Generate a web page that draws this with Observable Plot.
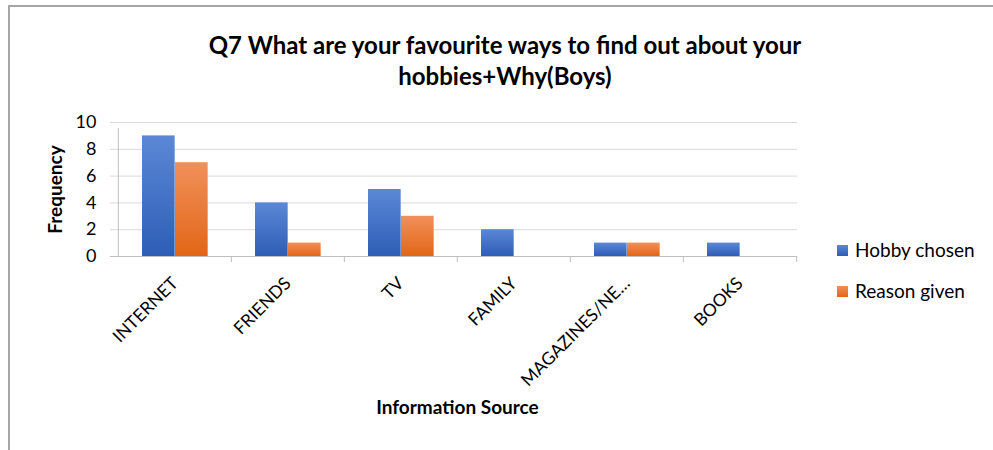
<!DOCTYPE html>
<html>
<head>
<meta charset="utf-8">
<script src="https://cdn.jsdelivr.net/npm/d3@7"></script>
<script src="https://cdn.jsdelivr.net/npm/@observablehq/plot@0.6"></script>
<style>
  html, body { margin: 0; padding: 0; background: #fff; }
  #wrap { position: relative; width: 993px; height: 450px; overflow: hidden; font-family: Lato, "Open Sans", sans-serif; }
  #border { position: absolute; left: 8px; top: 5px; width: 1000px; height: 500px; border-left: 2px solid #a6a6a6; border-top: 2px solid #a6a6a6; }
  #title { position: absolute; left: 0; top: 29px; width: 1010px; text-align: center; font-weight: bold; font-size: 24px; line-height: 31px; color: #000; }
  #chart { position: absolute; left: 0; top: 0; }
  .legend { position: absolute; left: 837px; font-size: 19px; color: #000; white-space: nowrap; }
  .legend span.sw { display: inline-block; width: 11px; height: 11px; margin-right: 7px; vertical-align: 1px; }
</style>
</head>
<body>
<div id="wrap">
  <div id="border"></div>
  <div id="chart"></div>
  <div id="title">Q7 What are your favourite ways to find out about your<br>hobbies+Why(Boys)</div>
  <div id="legend"></div>
</div>
<script>
const categories = ["INTERNET", "FRIENDS", "TV", "FAMILY", "MAGAZINES/NE…", "BOOKS"];
const hobbyChosen = [9, 4, 5, 2, 1, 1];
const reasonGiven = [7, 1, 3, 0, 1, 0];
const seriesNames = ["Hobby chosen", "Reason given"];
const yTicks = [0, 2, 4, 6, 8, 10];
const xLabel = "Information Source";
const yLabel = "Frequency";

const hobbyData = categories.map((c, i) => ({category: c, series: seriesNames[0], value: hobbyChosen[i]}));
const reasonData = categories.map((c, i) => ({category: c, series: seriesNames[1], value: reasonGiven[i]}));

const W = 993, H = 450;
const mL = 117, mR = 196, mT = 122, mB = 194;
const band = (W - mL - mR) / categories.length;

function defs() {
  const svg = d3.create("svg:g");
  const d = svg.append("defs");
  const g1 = d.append("linearGradient").attr("id", "gBlue").attr("x1", 0).attr("y1", 0).attr("x2", 0).attr("y2", 1);
  g1.append("stop").attr("offset", "0%").attr("stop-color", "#5b88d6");
  g1.append("stop").attr("offset", "100%").attr("stop-color", "#2e5db6");
  const g2 = d.append("linearGradient").attr("id", "gOrange").attr("x1", 0).attr("y1", 0).attr("x2", 0).attr("y2", 1);
  g2.append("stop").attr("offset", "0%").attr("stop-color", "#f1905a");
  g2.append("stop").attr("offset", "100%").attr("stop-color", "#e26616");
  return svg.node();
}

const chart = Plot.plot({
  width: W,
  height: H,
  marginLeft: mL,
  marginRight: mR,
  marginTop: mT,
  marginBottom: mB,
  style: {fontFamily: "Lato, 'Open Sans', sans-serif", background: "transparent", color: "#000", overflow: "visible"},
  x: {
    domain: categories,
    paddingInner: 0,
    paddingOuter: 0,
    tickSize: 0,
    tickPadding: 24,
    tickRotate: -45,
    label: null
  },
  y: {
    domain: [0, 10],
    ticks: yTicks,
    tickSize: 0,
    tickPadding: 21,
    tickFormat: d => String(d),
    label: null
  },
  marks: [
    defs,
    Plot.ruleY(yTicks.filter(t => t !== 0), {y: d => d, stroke: "#d9d9d9", strokeWidth: 1, insetLeft: -7}),
    Plot.ruleY([0], {y: d => d, stroke: "#bfbfbf", strokeWidth: 1, insetLeft: -7}),
    Plot.ruleX([categories[0]], {x: d => d, dx: -band / 2, y1: 0, y2: 10, insetBottom: -6, stroke: "#bfbfbf"}),
    Plot.ruleX(categories.slice(1), {x: d => d, dx: -band / 2, y1: 0, y2: 0, insetBottom: -6, stroke: "#bfbfbf"}),
    Plot.ruleX([categories[categories.length - 1]], {x: d => d, dx: band / 2, y1: 0, y2: 0, insetBottom: -6, stroke: "#bfbfbf"}),
    Plot.barY(hobbyData, {x: "category", y: "value", fill: "url(#gBlue)", insetLeft: 24, insetRight: band - 57}),
    Plot.barY(reasonData, {x: "category", y: "value", fill: "url(#gOrange)", insetLeft: 57, insetRight: band - 90}),
    Plot.text([yLabel], {frameAnchor: "left", dx: -62, rotate: -90, textAnchor: "middle", fontWeight: "bold", fontSize: 19, text: d => d}),
    Plot.text([xLabel], {frameAnchor: "bottom", dy: 157, fontWeight: "bold", fontSize: 19, text: d => d})
  ]
});
chart.querySelectorAll("g[aria-label^='x-axis'], g[aria-label^='y-axis']").forEach(g => {
  g.setAttribute("font-size", g.getAttribute("aria-label").startsWith("y") ? 18 : 17.5);
});
document.getElementById("chart").appendChild(chart);

const legend = document.getElementById("legend");
const fills = ["linear-gradient(#5b88d6,#2e5db6)", "linear-gradient(#f1905a,#e26616)"];
const tops = [238, 279];
seriesNames.forEach((s, i) => {
  const div = document.createElement("div");
  div.className = "legend";
  div.style.top = tops[i] + "px";
  const sw = document.createElement("span");
  sw.className = "sw";
  sw.style.background = fills[i];
  div.appendChild(sw);
  div.appendChild(document.createTextNode(s));
  legend.appendChild(div);
});
</script>
</body>
</html>
